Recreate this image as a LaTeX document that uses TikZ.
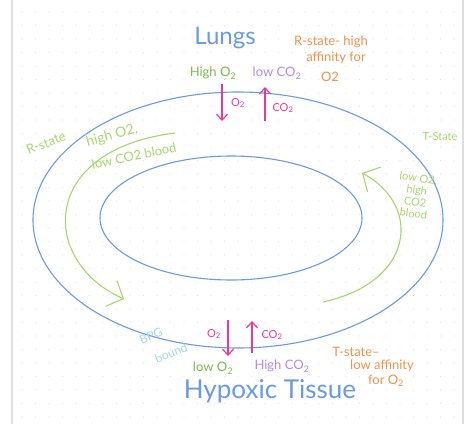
\documentclass[tikz,border=0pt]{standalone}
\usepackage{fontspec}
\setmainfont{Lato}
\usetikzlibrary{arrows.meta}

\definecolor{ringblue}{HTML}{6A9BE0}
\definecolor{limegreen}{HTML}{A8D66E}
\definecolor{leafgreen}{HTML}{7DBA4A}
\definecolor{lilac}{HTML}{B48BE6}
\definecolor{hotpink}{HTML}{E8399B}
\definecolor{peach}{HTML}{F2924C}
\definecolor{skyblue}{HTML}{A5D8EE}

\newcommand{\sub}[1]{\textsubscript{#1}}

\begin{document}
\begin{tikzpicture}[x=1pt,y=-1pt,
    ring/.style={ringblue, line width=1.1pt},
    flow/.style={limegreen, line width=1.1pt, -{Straight Barb[length=13pt,width=28pt]}},
    gas/.style={hotpink, line width=1.2pt, -{Straight Barb[length=6pt,width=11pt]}},
    lbl/.style={inner sep=0pt, align=center, font=\fontsize{13}{14}\selectfont}]

    % Page and dot grid
    \useasboundingbox (0,0) rectangle (474,424);
    \fill[white] (0,0) rectangle (474,424);
    \foreach \i in {0,...,32}
        \foreach \j in {0,...,30}
            \fill[gray!22] (22+\i*13.5, 12+\j*13.5) circle (0.7pt);
    \draw[gray!25, line width=2pt] (12,0) -- (12,424);
    \draw[gray!25, line width=2pt] (463,0) -- (463,424);

    % Draw the two rings
    \draw[ring] (238,220) ellipse [x radius=205, y radius=128];
    \draw[ring] (231,218) ellipse [x radius=131, y radius=62];

    % Lungs side
    \node[lbl, ringblue, font=\fontsize{24}{28}\selectfont] (lungs) at (225,38) {Lungs};
    \node[lbl, peach] (rhigh) at (331,42) {R-state- high};
    \node[lbl, peach] (raff) at (336,58) {affinity for};
    \node[lbl, peach] (ro2) at (330,77) {O2};
    \node[lbl, leafgreen] (higho2) at (213,73) {High O\sub{2}};
    \node[lbl, lilac] (lowco2) at (277,73) {low CO\sub{2}};

    \coordinate (to2a) at (222,84);
    \coordinate (to2b) at (222,121);
    \coordinate (tco2a) at (265,121);
    \coordinate (tco2b) at (265,87);
    \draw[gas] (to2a) -- (to2b);
    \draw[gas] (tco2a) -- (tco2b);
    \node[lbl, hotpink, font=\fontsize{11}{12}\selectfont] (to2) at (238,103) {O\sub{2}};
    \node[lbl, hotpink, font=\fontsize{11}{12}\selectfont] (tco2) at (283,108) {CO\sub{2}};

    % Left flow: R-state
    \node[lbl, limegreen, rotate=22] (rstate) at (46,143) {R-state};
    \node[lbl, limegreen, rotate=15, font=\fontsize{14}{15}\selectfont] (rblood1) at (112,136) {high O2,};
    \node[lbl, limegreen, rotate=12] (rblood2) at (134,156) {low CO2 blood};
    \coordinate (rstart) at (175,133);
    \coordinate (rend) at (124,299);
    \draw[flow] (rstart) .. controls (38,150) and (40,262) .. (rend);

    % Right flow: T-state
    \node[lbl, limegreen, font=\fontsize{11}{12}\selectfont] (tstate) at (440,137) {T-State};
    \node[lbl, limegreen, font=\fontsize{11}{12}\selectfont, rotate=-8] (tblood) at (416,196) {low O2,\\high\\CO2\\blood};
    \coordinate (tstart) at (323,302);
    \coordinate (tend) at (362,173);
    \draw[flow] (tstart) .. controls (415,282) and (422,205) .. (tend);

    % Tissue side
    \coordinate (bo2a) at (228,320);
    \coordinate (bo2b) at (228,356);
    \coordinate (bco2a) at (252,353);
    \coordinate (bco2b) at (252,321);
    \draw[gas] (bo2a) -- (bo2b);
    \draw[gas] (bco2a) -- (bco2b);
    \node[lbl, hotpink, font=\fontsize{11}{12}\selectfont] (bo2) at (214,334) {O\sub{2}};
    \node[lbl, hotpink, font=\fontsize{11}{12}\selectfont] (bco2) at (272,335) {CO\sub{2}};
    \node[lbl, skyblue, rotate=22, font=\fontsize{12}{12}\selectfont] (bpg) at (151,336) {BPG};
    \node[lbl, skyblue, rotate=22, font=\fontsize{12}{12}\selectfont] (bound) at (171,353) {bound};
    \node[lbl, leafgreen] (lowo2) at (213,368) {low O\sub{2}};
    \node[lbl, lilac] (highco2) at (282,366) {High CO\sub{2}};
    \node[lbl, ringblue, font=\fontsize{26}{30}\selectfont] (tissue) at (270,391) {Hypoxic Tissue};
    \node[lbl, peach] (thigh) at (356,352) {T-state–};
    \node[lbl, peach] (taff) at (382,366) {low affinity};
    \node[lbl, peach] (to2low) at (386,381) {for O\sub{2}};

\end{tikzpicture}
\end{document}
